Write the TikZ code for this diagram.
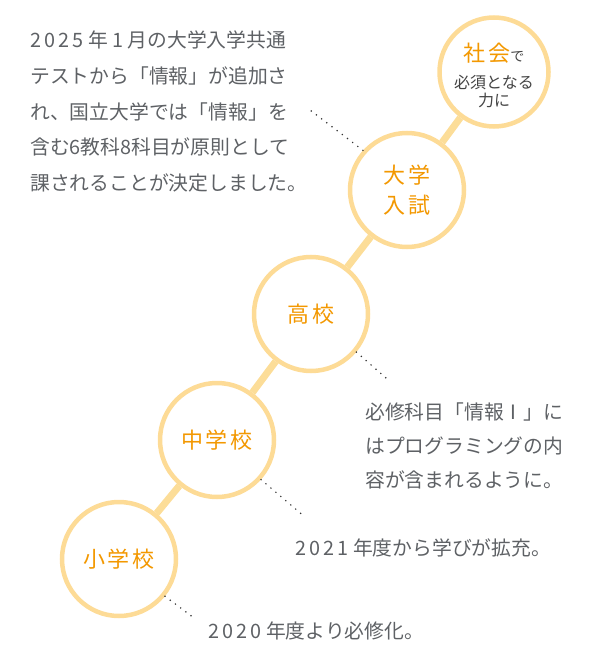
\documentclass[tikz,border=0pt]{standalone}
\usepackage{fontspec}
\setmainfont{Noto Sans CJK JP}
\newfontfamily\lblfont[LetterSpace=12]{Noto Sans CJK JP}
\newfontfamily\digfont[LetterSpace=16]{Noto Sans CJK JP}
\newcommand\dg[1]{{\digfont #1}}
\definecolor{ringc}{HTML}{FDDB96}
\definecolor{linkc}{HTML}{FCDD98}
\definecolor{orangec}{HTML}{F39800}
\definecolor{greyc}{HTML}{5E6165}
\definecolor{darkc}{HTML}{444444}
\definecolor{dotc}{HTML}{333333}
\tikzset{
  ring/.style={circle, draw=ringc, line width=4.5pt, fill=white, minimum size=114pt, inner sep=0pt, text=orangec, font=\lblfont\fontsize{22}{30}\selectfont, align=center},
  link/.style={draw=linkc, line width=7pt},
  leader/.style={draw=dotc, line width=1.7pt, line cap=round, dash pattern=on 0pt off 6.5pt},
  para/.style={anchor=base west, inner sep=0pt, text=greyc, font=\fontsize{19.8}{36}\selectfont}
}
\begin{document}
\begin{tikzpicture}[x=1pt,y=-1pt]
\useasboundingbox (0,0) rectangle (600,660);
% circles
\node[ring] (sho) at (119,559) {小学校};
\node[ring] (chu) at (217,440) {中学校};
\node[ring] (kou) at (311,314) {高校};
\node[ring] (dai) at (407,190) {大学\\入試};
\node[ring, minimum size=109pt] (sha) at (494,72) {\rule{0pt}{24.5pt}社会{\normalfont\color{darkc}\fontsize{14}{14}\selectfont で}\\[-3pt]{\normalfont\color{darkc}\fontsize{16}{22}\selectfont 必須となる}\\[-12pt]{\normalfont\color{darkc}\fontsize{16}{22}\selectfont 力に}};
% connectors
\draw[link] (sho) -- (chu);
\draw[link] (chu) -- (kou);
\draw[link] (kou) -- (dai);
\draw[link] (dai) -- (sha);
% leaders
\coordinate (e1) at (310,110);
\coordinate (e2) at (386,378);
\coordinate (e3) at (305,517);
\coordinate (e4) at (194,618);
\draw[leader] (dai.138) -- (e1);
\draw[leader] (kou.320) -- (e2);
\draw[leader] (chu.318) -- (e3);
\draw[leader] (sho.321) -- (e4);
% texts
\node[para] (pa1) at (30,48) {\dg{2025} 年 \dg{1} 月の大学入学共通};
\node[para] (pa2) at (30,84) {テストから「情報」が追加さ};
\node[para] (pa3) at (30,119.5) {れ、国立大学では「情報」を};
\node[para] (pa4) at (30,155) {含む\dg{6}教科\dg{8}科目が原則として};
\node[para] (pa5) at (30,190.5) {課されることが決定しました。};
\node[para] (pb1) at (365,419.5) {必修科目「情報Ⅰ」に};
\node[para] (pb2) at (365,453.5) {はプログラミングの内};
\node[para] (pb3) at (365,487.5) {容が含まれるように。};
\node[para] (pc1) at (295,555.5) {\dg{2021} 年度から学びが拡充。};
\node[para] (pd1) at (208,638.5) {\dg{2020} 年度より必修化。};
\end{tikzpicture}
\end{document}
